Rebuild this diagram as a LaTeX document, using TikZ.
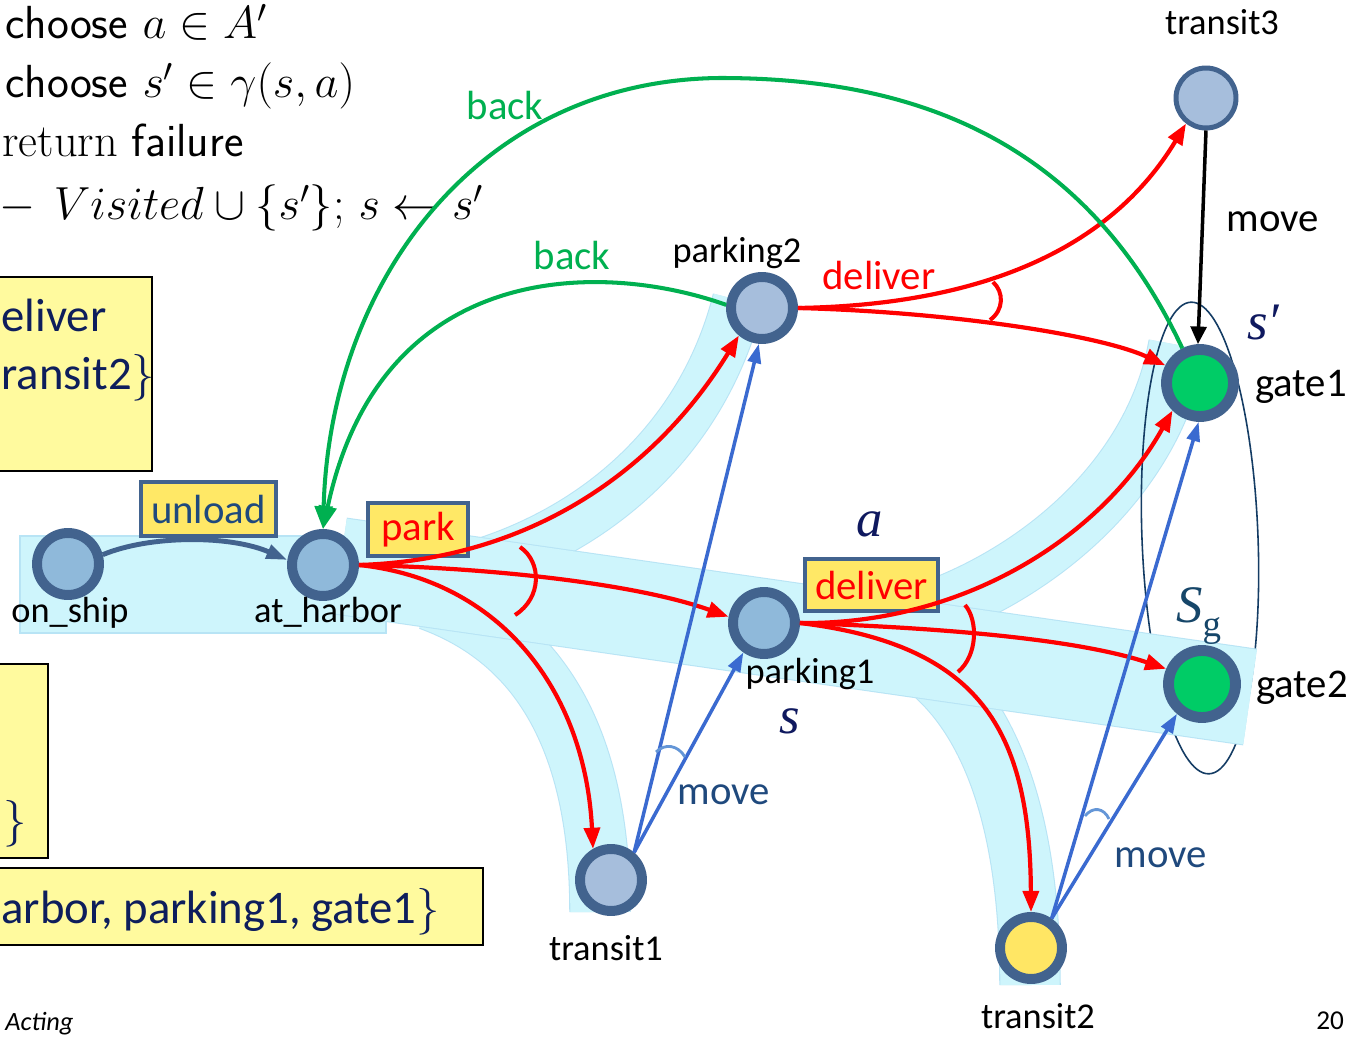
\RequirePackage{fix-cm}
\documentclass[tikz,border=0pt]{standalone}
\usepackage{fontspec}
\setmainfont{Carlito}
\newfontfamily\tnr{Liberation Serif}
\usetikzlibrary{arrows.meta}
\definecolor{nodeb}{RGB}{66,99,142}
\definecolor{fillA}{RGB}{143,185,218}
\definecolor{fillB}{RGB}{166,190,220}
\definecolor{gategreen}{RGB}{0,204,102}
\definecolor{tyellow}{RGB}{255,230,100}
\definecolor{labfill}{RGB}{255,232,102}
\definecolor{boxfill}{RGB}{255,250,158}
\definecolor{navy}{RGB}{14,30,92}
\definecolor{mred}{RGB}{255,0,0}
\definecolor{mblue}{RGB}{58,106,208}
\definecolor{mgreen}{RGB}{0,176,80}
\definecolor{bandf}{RGB}{206,245,252}
\definecolor{bandb}{RGB}{184,228,245}
\definecolor{movec}{RGB}{31,73,125}
\definecolor{ellc}{RGB}{20,60,100}
\definecolor{sgc}{RGB}{22,70,105}
\definecolor{marc}{RGB}{100,150,215}
\definecolor{mathc}{RGB}{15,25,95}
\tikzset{
  st/.style={circle, draw=nodeb, line width=5.67pt, minimum size=1.24cm, inner sep=0pt},
  gt/.style={circle, draw=nodeb, line width=6.2pt, minimum size=1.34cm, inner sep=0pt},
  smallst/.style={circle, draw=nodeb, line width=2.83pt, minimum size=1.2cm, inner sep=0pt},
  nl/.style={font=\fontsize{20.7}{24}\selectfont, inner sep=0pt, anchor=base},
  al/.style={font=\fontsize{23.2}{28}\selectfont, inner sep=0pt, anchor=base},
  labbox/.style={draw=nodeb, fill=labfill, line width=2.3pt, inner sep=0pt, font=\fontsize{23.2}{28}\selectfont},
  redE/.style={draw=mred, line width=2.4pt, -{Triangle[length=12pt,width=9pt]}},
  blueE/.style={draw=mblue, line width=2pt, -{Triangle[length=11pt,width=7.5pt]}},
  greenE/.style={draw=mgreen, line width=2.3pt, -{Triangle[length=13pt,width=10pt]}},
  blackE/.style={draw=black, line width=2pt, -{Triangle[length=10pt,width=9pt]}},
  unloadE/.style={draw=nodeb, line width=2.8pt, -{Triangle[length=12pt,width=8pt]}},
  andarc/.style={draw=mred, line width=2.3pt},
  movearc/.style={draw=marc, line width=1.6pt},
  bandedge/.style={draw=bandb},
  bandfill/.style={draw=bandf},
  ytext/.style={font=\fontsize{26.6}{30}\selectfont, text=navy, inner sep=0pt, anchor=base west},
  cmtext/.style={font=\fontsize{26.4}{30}\selectfont, inner sep=0pt, anchor=base west},
}
\begin{document}
\begin{tikzpicture}[x=0.02cm, y=-0.02cm]
\useasboundingbox (0,0) rectangle (1357,1037);
\fill[white] (0,0) rectangle (1357,1037);

% ---- curved bands (behind)
\draw[bandedge, line width=29.5pt] (440,575) .. controls (580,545) and (700,450) .. (738,300);
\draw[bandfill, line width=28.3pt] (440,575) .. controls (580,545) and (700,450) .. (738,300);
\draw[bandedge, line width=35pt] (430,600) .. controls (540,640) and (600,740) .. (600,912);
\draw[bandfill, line width=33.8pt] (430,600) .. controls (540,640) and (600,740) .. (600,912);
\draw[bandedge, line width=34pt] (880,625) .. controls (1000,600) and (1150,500) .. (1178,345);
\draw[bandfill, line width=32.8pt] (880,625) .. controls (1000,600) and (1150,500) .. (1178,345);
\draw[bandedge, line width=35pt] (880,640) .. controls (980,680) and (1030,800) .. (1030,985);
\draw[bandfill, line width=33.8pt] (880,640) .. controls (980,680) and (1030,800) .. (1030,985);

% ---- goal ellipse
\draw[ellc, line width=0.9pt, rotate around={2.2:(1200,538)}] (1200,538) ellipse [x radius=58, y radius=236];

% ---- straight bands
\fill[bandf] (20,536) rectangle (386,633);
\draw[bandb, line width=0.6pt] (20,536) rectangle (386,633);
\draw[bandedge, line width=55.6pt] (340,566) -- (1250,697);
\draw[bandfill, line width=54.4pt] (340,566) -- (1250,697);

% ---- top-left algorithm text
\node[cmtext] (l1) at (5,39) {\sffamily choose $a\in A'$};
\node[cmtext] (l2) at (5,98) {\sffamily choose $s'\in\gamma(s,a)$};
\node[cmtext] (l3) at (2,157) {\fontfamily{lmr}\selectfont return \sffamily failure};
\node[cmtext] (l4) at (-1,220) {\fontfamily{lmr}\selectfont $-$\hspace{0.4em}$Visited\cup\{s'\}$; $s\leftarrow s'$};

% ---- left yellow boxes
\draw[black, line width=1.4pt, fill=boxfill] (-10,277) rectangle (152,471);
\node[ytext] (b1a) at (1,332) {eliver};
\node[ytext] (b1b) at (1,390) {ransit2$\}$};
\draw[black, line width=1.4pt, fill=boxfill] (-10,664) rectangle (48,858);
\node[ytext] (b2) at (3,835) {$\}$};
\draw[black, line width=1.4pt, fill=boxfill] (-10,868) rectangle (483,945);
\node[ytext] (b3) at (1,923) {arbor, parking1, gate1$\}$};

% ---- state nodes
\node[st, fill=fillA] (onship) at (68,564) {};
\node[st, fill=fillA] (harbor) at (323,565) {};
\node[st, fill=fillB] (p2) at (762,308) {};
\node[st, fill=fillA] (p1) at (764,623) {};
\node[st, fill=fillB] (t1) at (611,880) {};
\node[st, fill=tyellow] (t2) at (1031,948) {};
\node[smallst, fill=fillB] (t3) at (1206,98) {};
\node[gt, fill=gategreen] (g1) at (1200,383) {};
\node[gt, fill=gategreen] (g2) at (1202,684) {};

% ---- node labels
\node[nl] (lonship) at (70,622) {on\_ship};
\node[nl] (lharbor) at (328,622) {at\_harbor};
\node[nl] (lp2) at (737,263) {parking2};
\node[nl] (lp1) at (810,683) {parking1};
\node[nl] (lt1) at (606,960) {transit1};
\node[nl] (lt2) at (1038,1028) {transit2};
\node[nl] (lt3) at (1222,35) {transit3};
\node[al] (lg1) at (1301,397) {gate1};
\node[al] (lg2) at (1302,697) {gate2};

% ---- action label boxes
\node[labbox, minimum width=2.7cm, minimum height=1.08cm, text=movec] (unload) at (208.5,509) {unload};
\node[labbox, minimum width=2.0cm, minimum height=1.06cm, text=mred] (park) at (418,529.5) {park};
\node[labbox, minimum width=2.66cm, minimum height=1.04cm, text=mred] (deliv) at (871.5,585) {deliver};

% ---- edges
\draw[unloadE] (onship.15) .. controls (150,535) and (230,535) .. (harbor.172);
\draw[redE] (harbor.east) .. controls (520,560) and (650,480) .. (p2.230);
\draw[redE] (harbor.east) .. controls (500,568) and (640,585) .. (p1.170);
\draw[redE] (harbor.east) .. controls (500,580) and (585,690) .. (t1.120);
\draw[redE] (p2.east) .. controls (980,305) and (1110,250) .. (t3.232);
\draw[redE] (p2.east) .. controls (950,312) and (1100,335) .. (g1.153);
\draw[redE] (p1.east) .. controls (960,625) and (1100,540) .. (g1.225);
\draw[redE] (p1.east) .. controls (950,628) and (1080,640) .. (g2.157);
\draw[redE] (p1.east) .. controls (980,645) and (1030,730) .. (t2.north);
\draw[blueE] (t1.50) -- (p2.265);
\draw[blueE] (t1.50) -- (p1.235);
\draw[blueE] (t2.55) -- (g1.268);
\draw[blueE] (t2.55) -- (g2.230);
\draw[blackE] (t3.south) -- (g1.93);
\coordinate (gtop) at (720,78);
\draw[greenE] (g1.117) .. controls (1080,130) and (900,78) .. (gtop) .. controls (480,80) and (330,280) .. (harbor.north);
\draw[greenE] (p2.175) .. controls (600,260) and (380,260) .. (harbor.north);

% ---- AND arcs
\draw[andarc] (520,547) .. controls (542,562) and (542,598) .. (515,615);
\draw[andarc] (993,282) .. controls (1004,292) and (1004,310) .. (990,320);
\draw[andarc] (965,605) .. controls (978,620) and (978,655) .. (958,672);
\draw[movearc] (656,752) .. controls (665,743) and (678,745) .. (685,757);
\draw[movearc] (1085,816) .. controls (1093,806) and (1104,808) .. (1109,819);

% ---- action labels
\node[al, text=mred] (ldel) at (879,290) {deliver};
\node[al, text=mgreen] (lback1) at (505,120) {back};
\node[al, text=mgreen] (lback2) at (572,270) {back};
\node[al, text=black] (lmove3) at (1273,232) {move};
\node[al, text=movec] (lmove1) at (724,804) {move};
\node[al, text=movec] (lmove2) at (1161,867) {move};

% ---- math labels
\node[inner sep=0pt, anchor=base west, text=mathc, font=\tnr\fontsize{30}{30}\selectfont\itshape] (la) at (856,537) {a};
\node[inner sep=0pt, anchor=base west, text=mathc, font=\tnr\fontsize{30}{30}\selectfont\itshape] (ls) at (779,733) {s};
\node[inner sep=0pt, anchor=base west, text=mathc, font=\tnr\fontsize{30}{30}\selectfont\itshape] (lsp) at (1247,340) {s′};
\node[inner sep=0pt, anchor=base west, text=sgc, font=\tnr\fontsize{30}{30}\selectfont\itshape] (lsg) at (1176,622) {S\raisebox{-0.28em}{\upshape\fontsize{21}{21}\selectfont g}};

% ---- footer
\node[inner sep=0pt, anchor=base west, font=\fontsize{15}{18}\selectfont\itshape] (acting) at (5,1030) {Acting};
\node[inner sep=0pt, anchor=base west, font=\fontsize{15.5}{18}\selectfont] (pnum) at (1316,1029) {20};
\end{tikzpicture}
\end{document}
